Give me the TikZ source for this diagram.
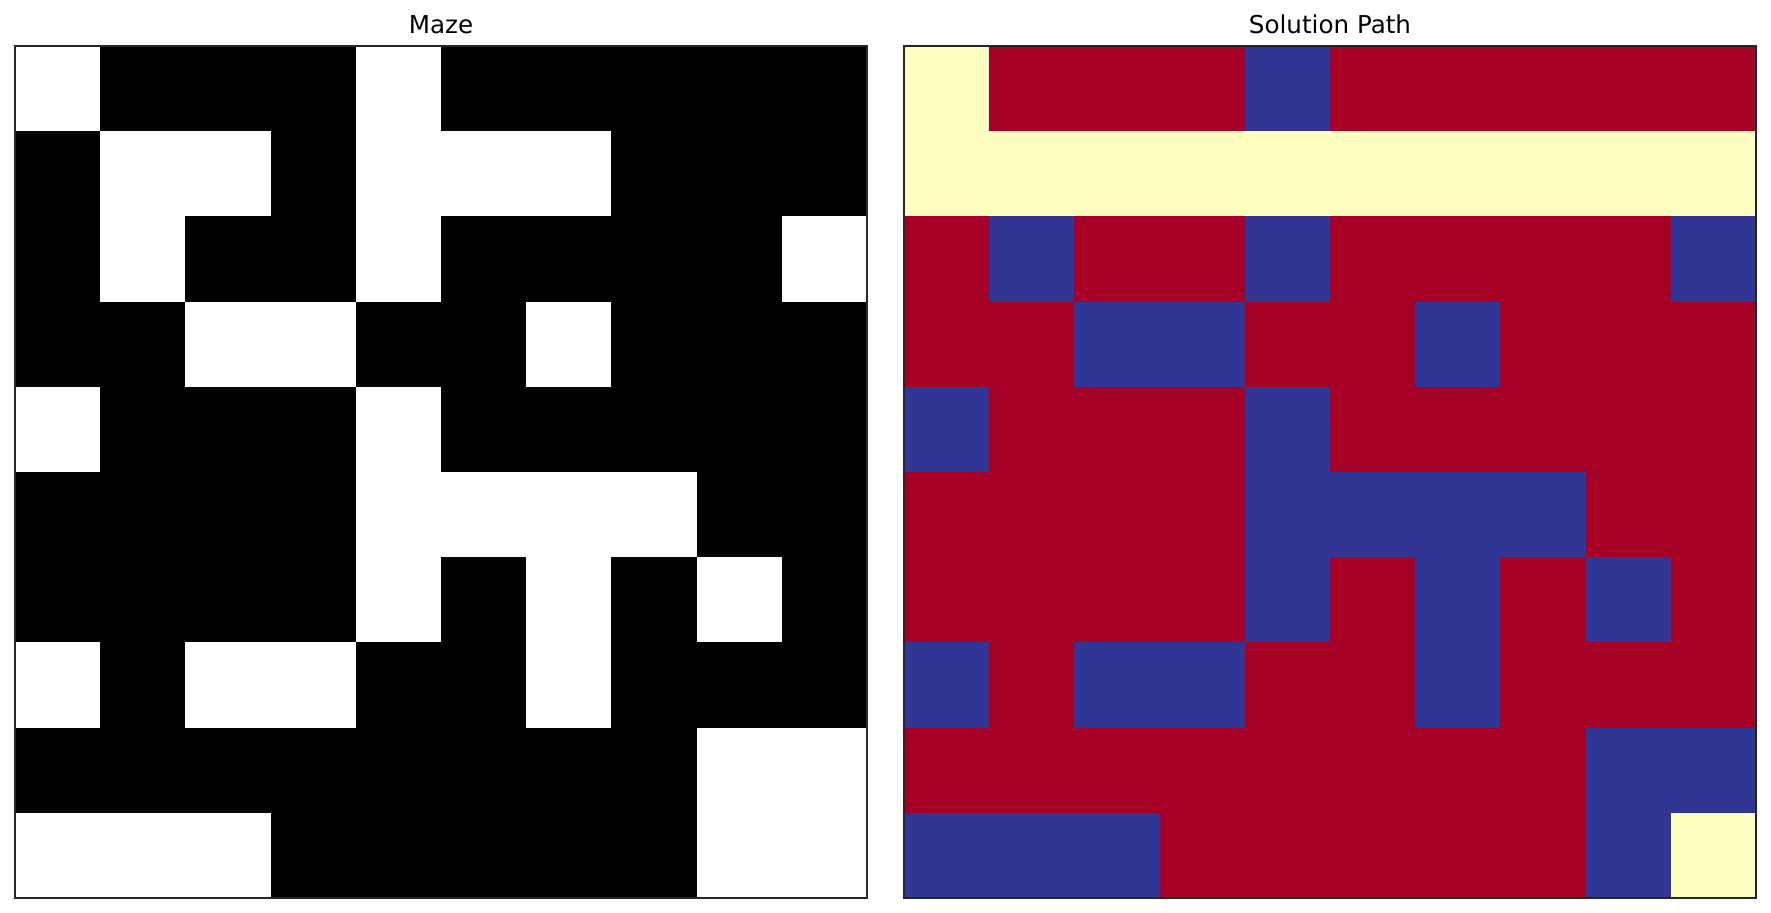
\documentclass[tikz,border=0pt]{standalone}
\usepackage{fontspec}
\setmainfont{DejaVu Sans}
\definecolor{mazewall}{RGB}{0,0,0}
\definecolor{mazeopen}{RGB}{255,255,255}
\definecolor{solwall}{RGB}{165,0,38}
\definecolor{solopen}{RGB}{49,54,149}
\definecolor{solpath}{RGB}{254,254,192}
\colorlet{maze0}{mazewall}
\colorlet{maze1}{mazeopen}
\colorlet{sol0}{solwall}
\colorlet{sol1}{solopen}
\colorlet{sol2}{solpath}
\tikzset{
  cellfill/.style={draw=none},
  panelframe/.style={draw=black!85, line width=1pt},
  paneltitle/.style={anchor=base, inner sep=0pt, font=\fontsize{12.3}{14}\selectfont}
}
\newcommand{\cellsize}{85.2}

\begin{document}
\begin{tikzpicture}[x=0.5pt, y=-0.5pt]
  \useasboundingbox (0,0) rectangle (1771,913);

  % --- maze panel ---
  \begin{scope}[shift={(15,46)}]
    \foreach \row [count=\r from 0] in {
      {1,0,0,0,1,0,0,0,0,0},
      {0,1,1,0,1,1,1,0,0,0},
      {0,1,0,0,1,0,0,0,0,1},
      {0,0,1,1,0,0,1,0,0,0},
      {1,0,0,0,1,0,0,0,0,0},
      {0,0,0,0,1,1,1,1,0,0},
      {0,0,0,0,1,0,1,0,1,0},
      {1,0,1,1,0,0,1,0,0,0},
      {0,0,0,0,0,0,0,0,1,1},
      {1,1,1,0,0,0,0,0,1,1}}
      \foreach \v [count=\c from 0] in \row
        \fill[cellfill, maze\v] ({\c*\cellsize},{\r*\cellsize}) rectangle ++(\cellsize+0.6,\cellsize+0.6);
    \draw[panelframe] (0,0) rectangle (10*\cellsize,10*\cellsize);
  \end{scope}

  % --- solution panel ---
  \begin{scope}[shift={(904,46)}]
    \foreach \row [count=\r from 0] in {
      {2,0,0,0,1,0,0,0,0,0},
      {2,2,2,2,2,2,2,2,2,2},
      {0,1,0,0,1,0,0,0,0,1},
      {0,0,1,1,0,0,1,0,0,0},
      {1,0,0,0,1,0,0,0,0,0},
      {0,0,0,0,1,1,1,1,0,0},
      {0,0,0,0,1,0,1,0,1,0},
      {1,0,1,1,0,0,1,0,0,0},
      {0,0,0,0,0,0,0,0,1,1},
      {1,1,1,0,0,0,0,0,1,2}}
      \foreach \v [count=\c from 0] in \row
        \fill[cellfill, sol\v] ({\c*\cellsize},{\r*\cellsize}) rectangle ++(\cellsize+0.6,\cellsize+0.6);
    \draw[panelframe] (0,0) rectangle (10*\cellsize,10*\cellsize);
  \end{scope}

  % --- titles ---
  \node[paneltitle] (mazetitle) at (441,34) {Maze};
  \node[paneltitle] (soltitle) at (1330,34) {Solution Path};

\end{tikzpicture}
\end{document}
